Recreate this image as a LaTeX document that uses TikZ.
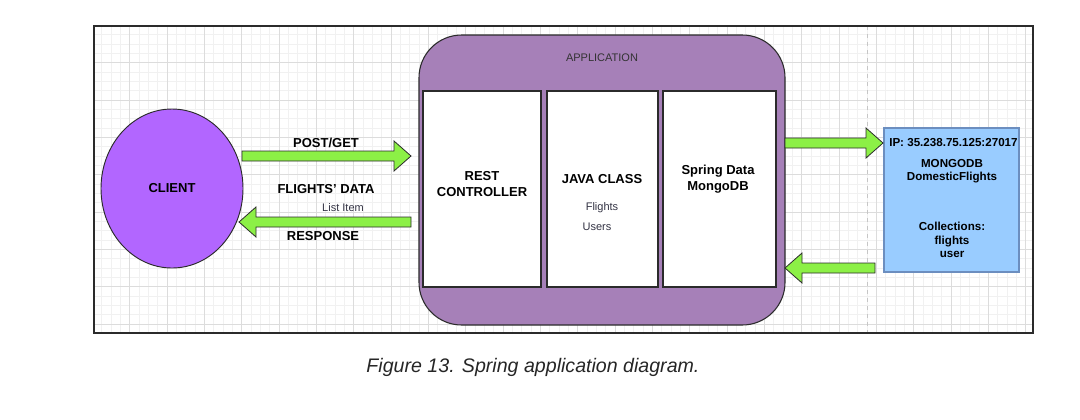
\documentclass[tikz,border=0pt]{standalone}
\usepackage{fontspec}
\setmainfont{Liberation Sans}[Ligatures=ResetAll]
\usetikzlibrary{calc,shapes.geometric}
\definecolor{gridminor}{HTML}{F1F1F1}
\definecolor{gridmajor}{HTML}{DCDCDC}
\definecolor{clientfill}{HTML}{B266FF}
\definecolor{appfill}{HTML}{A680B8}
\definecolor{arrowfill}{RGB}{140,240,70}
\definecolor{dbfill}{HTML}{99CCFF}
\definecolor{dbline}{HTML}{6C8EBF}
\definecolor{darkline}{HTML}{2B2B2B}
\definecolor{softtext}{HTML}{333344}
\tikzset{
  bigb/.style={font=\fontsize{9.75pt}{11.7pt}\selectfont\bfseries, align=center, inner sep=0pt},
  smallb/.style={font=\fontsize{8.7pt}{10.2pt}\selectfont\bfseries, align=center, inner sep=0pt},
  smalln/.style={font=\fontsize{8.25pt}{9.9pt}\selectfont, text=softtext, inner sep=0pt},
  layerbox/.style={draw=darkline, line width=0.9pt, fill=white, rectangle, inner sep=0pt,
    minimum height=147pt},
  fatarrow/.style={draw=darkline, line width=0.6pt, fill=arrowfill, line join=miter},
}
% block arrow from #1 to #2
\newcommand\fatarrow[2]{%
  \coordinate (hb) at ($(#2)!12.75pt!(#1)$);
  \filldraw[fatarrow] ($(#1)!3.75pt!90:(#2)$) -- ($(hb)!3.75pt!-90:(#1)$)
    -- ($(hb)!11.25pt!-90:(#1)$) -- (#2) -- ($(hb)!11.25pt!90:(#1)$)
    -- ($(hb)!3.75pt!90:(#1)$) -- ($(#1)!3.75pt!-90:(#2)$) -- cycle;
}
\begin{document}
\begin{tikzpicture}[x=0.75pt,y=-0.75pt]
\useasboundingbox (0,0) rectangle (1080,419);
\fill[white] (0,0) rectangle (1080,419);
% grid
\begin{scope}
  \clip (94,26) rectangle (1033,333);
  \foreach \i in {0,...,103} {
    \draw[gridminor, line width=0.6pt] ({92.4+\i*9.333},26) -- ({92.4+\i*9.333},333);
  }
  \foreach \j in {0,...,34} {
    \draw[gridminor, line width=0.6pt] (94,{25.4+\j*9.333}) -- (1033,{25.4+\j*9.333});
  }
  \foreach \i in {0,...,26} {
    \draw[gridmajor, line width=0.7pt] ({92.4+\i*37.33},26) -- ({92.4+\i*37.33},333);
  }
  \foreach \j in {0,...,9} {
    \draw[gridmajor, line width=0.7pt] (94,{25.4+\j*37.33}) -- (1033,{25.4+\j*37.33});
  }
  \draw[gray!45, dashed, line width=0.6pt] (867,26) -- (867,333);
\end{scope}
\node[draw=darkline, line width=1.2pt, rectangle, inner sep=0pt,
  minimum width=704.25pt, minimum height=230.25pt] (frame) at (563.5,179.5) {};

% client
\node[ellipse, draw=darkline, line width=0.7pt, fill=clientfill, inner sep=0pt,
  minimum width=106.5pt, minimum height=119.25pt] (client) at (172,188.5) {};
\node[bigb] (clientlbl) at (172,188.5) {CLIENT};

% application
\node[rectangle, rounded corners=32pt, draw=darkline, line width=0.8pt, fill=appfill,
  minimum width=274.5pt, minimum height=217.5pt, inner sep=0pt] (app) at (602,180) {};
\node[smalln, text=black!80] (apptitle) at (602,58) {APPLICATION};
\node[layerbox, minimum width=88.5pt] (rest) at (482,189) {};
\node[layerbox, minimum width=83.25pt] (java) at (602.5,189) {};
\node[layerbox, minimum width=84.75pt] (spring) at (719.5,189) {};
\node[bigb] (restlbl) at (482,184) {REST\\CONTROLLER};
\node[bigb] (javalbl) at (602,179) {JAVA CLASS};
\node[smalln] (flights) at (602,208) {Flights};
\node[smalln] (users) at (597,227) {Users};
\node[bigb] (springlbl) at (718,179) {Spring Data\\MongoDB};

% database
\node[rectangle, draw=dbline, line width=0.8pt, fill=dbfill, inner sep=0pt,
  minimum width=101.25pt, minimum height=108pt] (db) at (951.5,200) {};
\node[smallb, anchor=west] (ip) at (889,143) {IP: 35.238.75.125:27017};
\node[smallb] (mongo) at (952,171) {MONGODB\\DomesticFlights};
\node[smallb] (coll) at (952,240) {Collections:\\flights\\user};

% arrows
\coordinate (pgS) at (242,156);
\coordinate (pgE) at (411,156);
\fatarrow{pgS}{pgE}
\coordinate (rsS) at (411,222);
\coordinate (rsE) at (239,222);
\fatarrow{rsS}{rsE}
\coordinate (dbS) at (785,143);
\coordinate (dbE) at (883,143);
\fatarrow{dbS}{dbE}
\coordinate (bkS) at (875,268);
\coordinate (bkE) at (785,268);
\fatarrow{bkS}{bkE}

\node[bigb] (postget) at (326,143) {POST/GET};
\node[bigb] (fdata) at (326,189) {FLIGHTS' DATA};
\node[smalln] (listitem) at (343,208) {List Item};
\node[bigb] (resp) at (323,236) {RESPONSE};

% caption
\node[font=\fontsize{14.7pt}{16pt}\selectfont\itshape, text=black!85, inner sep=0pt] (caption)
  at (533,367) {Figure 13. Spring application diagram.};
\end{tikzpicture}
\end{document}
